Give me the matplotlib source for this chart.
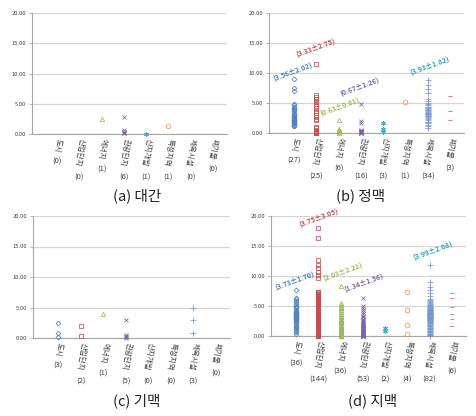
#!/usr/bin/env python3
"""Scatter of values per development type for four mountain-range classes."""

import matplotlib
matplotlib.use("Agg")
import matplotlib.pyplot as plt

plt.rcParams["font.family"] = ["Noto Sans CJK KR", "DejaVu Sans"]

CATEGORIES = ["도시", "산업단지", "에너지", "관광단지", "산지개발", "특정지역", "체육시설", "폐기물"]
CAPTIONS = ["(a) 대간", "(b) 정맥", "(c) 기맥", "(d) 지맥"]

# (a) 대간
A_VALUES = [
    [],
    [],
    [2.4],
    [2.8, 0.6, 0.4, 0.3, 0.2, 0.1],
    [0.05],
    [1.4],
    [],
    [],
]

# (b) 정맥
B_VALUES = [
    [9.0, 7.5, 7.0, 4.8, 4.6, 4.4, 4.2, 4.0, 3.8, 3.6, 3.4, 3.2, 3.0, 2.9, 2.7,
     2.5, 2.3, 2.2, 2.1, 2.0, 1.9, 1.8, 1.7, 1.5, 1.4, 1.2, 1.1],
    [11.5, 6.3, 6.0, 5.7, 5.4, 5.1, 4.8, 4.5, 4.2, 3.6, 3.3, 3.0, 2.7, 2.4, 2.1,
     1.0, 0.8, 0.5, 0.3, 0.2, 0.1, 0.1, 0.05, 0.0, 0.0],
    [2.1, 0.7, 0.5, 0.3, 0.1, 0.05],
    [4.8, 2.0, 1.7, 0.5, 0.4, 0.3, 0.3, 0.2, 0.2, 0.2, 0.1, 0.1, 0.1, 0.0, 0.0, 0.0],
    [1.7, 0.7, 0.2],
    [5.1],
    [8.8, 8.0, 7.4, 6.7, 5.6, 5.3, 5.0, 4.8, 4.6, 4.4, 4.3, 4.1, 4.0, 3.9, 3.8,
     3.6, 3.5, 3.4, 3.3, 3.2, 3.1, 3.0, 2.9, 2.8, 2.7, 2.5, 2.3, 2.1, 1.9, 1.8,
     1.6, 1.4, 1.2, 0.9],
    [6.1, 3.6, 2.1],
]

# (c) 기맥
C_VALUES = [
    [2.5, 0.85, 0.1],
    [2.0, 0.4],
    [4.0],
    [3.0, 0.5, 0.3, 0.1, 0.0],
    [],
    [],
    [5.0, 3.0, 0.9],
    [],
]

# (d) 지맥
D_VALUES = [
    [7.7, 6.4, 6.1, 5.8, 5.6, 5.3, 5.0, 4.8, 4.6, 4.4, 4.2, 4.0, 3.9, 3.8, 3.7,
     3.6, 3.5, 3.4, 3.3, 3.2, 3.1, 3.0, 2.9, 2.8, 2.6, 2.5, 2.3, 2.1, 1.9, 1.7,
     1.5, 1.3, 1.1, 0.9, 0.6, 0.4],
    [18.0, 16.4, 12.6, 11.9, 11.3, 10.7, 10.2, 9.7,
     7.4, 7.3, 7.1, 7.0, 6.9, 6.8, 6.7, 6.5, 6.4, 6.3, 6.2, 6.1, 6.0, 5.9, 5.8, 5.7, 5.6, 5.5, 5.4, 5.3,
     5.2, 5.1, 5.0, 4.9, 4.8, 4.7, 4.6, 4.5, 4.4, 4.3, 4.2, 4.1, 4.0, 3.9, 3.8, 3.7, 3.6, 3.5, 3.4, 3.3,
     3.2, 3.1, 3.0, 2.9, 2.8, 2.7, 2.6, 2.5, 2.4, 2.3, 2.2, 2.1, 2.0, 1.9, 1.8, 1.7, 1.6, 1.5, 1.4, 1.3,
     1.2, 1.1, 1.0, 0.9, 0.8, 0.7, 0.6, 0.5, 0.4, 0.3, 0.2, 0.1, 0.0, 4.6, 4.2, 3.8, 3.4, 3.0, 2.6, 2.2,
     6.6, 6.2, 5.8, 5.4, 5.0, 4.6, 4.2, 3.8, 3.4, 3.0, 2.6, 2.2, 1.8, 1.4, 1.0, 0.6, 0.2, 4.8, 4.4, 4.0,
     3.6, 3.2, 2.8, 2.4, 2.0, 1.6, 1.2, 0.8, 0.4, 0.0, 3.5, 3.1, 2.7, 2.3, 1.9, 1.5, 1.1, 0.7, 0.3, 0.1,
     2.5, 2.1, 1.7, 1.3, 0.9, 0.5, 0.2, 0.0, 3.3, 2.9, 2.4, 1.8, 1.2, 0.6, 0.3, 0.0],
    [8.4, 5.5, 5.2, 4.9, 4.6, 4.3, 4.0, 3.7, 3.4, 3.1, 2.9, 2.7, 2.5, 2.3, 2.1,
     1.9, 1.7, 1.5, 1.3, 1.1, 1.0, 0.9, 0.8, 0.7, 0.6, 0.5, 0.4, 0.35, 0.3, 0.25,
     0.2, 0.15, 0.1, 0.05, 0.0, 0.0],
    [6.4, 5.0, 4.6, 4.3, 4.0, 3.7, 3.4, 3.1, 2.9, 2.7, 2.5, 2.3, 2.1, 2.0, 1.9,
     1.8, 1.7, 1.6, 1.5, 1.4, 1.3, 1.2, 1.1, 1.0, 0.9, 0.8, 0.75, 0.7, 0.65, 0.6,
     0.55, 0.5, 0.45, 0.4, 0.35, 0.3, 0.3, 0.25, 0.25, 0.2, 0.2, 0.15, 0.15, 0.1, 0.1,
     0.1, 0.05, 0.05, 0.05, 0.0, 0.0, 0.0, 0.0],
    [1.3, 0.8],
    [7.3, 4.4, 1.9, 0.4],
    [11.9, 9.0, 8.2, 7.6, 7.1, 6.6, 6.2,
     6.0, 5.8, 5.6, 5.5, 5.4, 5.2, 5.1, 5.0, 4.9, 4.8, 4.7, 4.6, 4.5, 4.4, 4.4,
     4.3, 4.2, 4.2, 4.1, 4.0, 4.0, 3.9, 3.9, 3.8, 3.8, 3.7, 3.7, 3.6, 3.6, 3.5,
     3.5, 3.4, 3.4, 3.3, 3.3, 3.2, 3.2, 3.1, 3.0, 3.0, 2.9, 2.8, 2.8, 2.7, 2.6,
     2.5, 2.5, 2.4, 2.3, 2.2, 2.1, 2.0, 1.9, 1.8, 1.7, 1.6, 1.5, 1.4, 1.3, 1.2,
     1.1, 1.0, 0.9, 0.8, 0.7, 0.6, 0.5, 0.4, 0.3, 0.2, 0.1, 0.0, 4.5, 3.6, 2.7],
    [7.1, 6.4, 4.9, 3.6, 2.9, 1.7],
]

# mean ± sd labels: text, category index
B_STATS = [("(3.56±2.02)", 0), ("(3.33±2.75)", 1), ("(0.63±0.81)", 2), ("(0.67±1.26)", 3), ("(3.93±1.82)", 6)]
D_STATS = [("(3.73±1.70)", 0), ("(3.75±3.05)", 1), ("(2.03±2.21)", 2), ("(1.34±1.56)", 3), ("(3.99±2.08)", 6)]
# label anchor positions (data coords)
B_STAT_POS = [(0.95, 10.2), (1.95, 14.3), (3.05, 4.5), (3.95, 7.7), (7.1, 11.3)]
D_STAT_POS = [(0.95, 9.3), (2.0, 19.8), (3.1, 10.7), (4.05, 9.0), (7.15, 14.3)]

STYLES = [
    {"marker": "D", "color": "#4F81BD", "ms": 2.5, "hollow": True},
    {"marker": "s", "color": "#C0504D", "ms": 3.0, "hollow": True},
    {"marker": "^", "color": "#9BBB59", "ms": 3.2, "hollow": True},
    {"marker": "x", "color": "#8064A2", "ms": 3.0, "hollow": False},
    {"marker": (6, 2, 0), "color": "#4BACC6", "ms": 3.4, "hollow": False},
    {"marker": "o", "color": "#F79646", "ms": 3.3, "hollow": True},
    {"marker": "+", "color": "#7596CF", "ms": 4.0, "hollow": False},
    {"marker": "_", "color": "#D9585A", "ms": 2.2, "hollow": False},
]
STAT_COLORS = ["#4A7EBF", "#C0504D", "#9BBB59", "#8064A2", "#31A0BE", "#F79646", "#31A0BE", "#C0504D"]

FIG_W, FIG_H = 476, 416
# panel plot areas in pixels: left, right, top, bottom
PANEL_BOXES = [(32, 227, 13, 134), (269, 464, 13, 133), (33, 230, 216, 338), (271, 466, 216, 336)]
CAPTION_POS = [(137, 196), (360, 196), (137, 401), (373, 401)]


def draw_panel(fig, box, values, stats, stat_pos):
    left, right, top, bottom = box
    ax = fig.add_axes([left / FIG_W, 1 - bottom / FIG_H, (right - left) / FIG_W, (bottom - top) / FIG_H])
    for i, (vals, st) in enumerate(zip(values, STYLES)):
        if not vals:
            continue
        ax.plot(
            [i + 1] * len(vals), vals,
            linestyle="none", marker=st["marker"], markersize=st["ms"],
            markeredgecolor=st["color"], markeredgewidth=0.55,
            markerfacecolor="none" if st["hollow"] else st["color"],
            clip_on=False, zorder=3,
        )
    ax.set_xlim(-0.12, 8.63)
    ax.set_ylim(0, 20)
    ax.set_yticks([0, 5, 10, 15, 20])
    ax.set_yticklabels([f"{v:.2f}" for v in [0, 5, 10, 15, 20]])
    ax.tick_params(axis="y", labelsize=4.2, length=2, width=0.6, color="#A6A6A6", pad=2, labelcolor="#404040")
    ax.set_xticks([])
    ax.grid(axis="y", color="#D4D4D4", linewidth=0.9)
    ax.set_axisbelow(True)
    for side in ("top", "right"):
        ax.spines[side].set_visible(False)
    for side in ("left", "bottom"):
        ax.spines[side].set_color("#A6A6A6")
        ax.spines[side].set_linewidth(0.8)

    for i, name in enumerate(CATEGORIES):
        ax.annotate(name, xy=(i + 1, 0), xycoords=("data", "axes fraction"),
                    xytext=(0, -3), textcoords="offset points",
                    rotation=-100, ha="center", va="top", fontsize=5.5, color="#404040")
        off = 3 + len(name) * 5.8 + 5
        ax.annotate(f"({len(values[i])})", xy=(i + 1, 0), xycoords=("data", "axes fraction"),
                    xytext=(0, -off), textcoords="offset points",
                    ha="center", va="center", fontsize=5.5, color="#404040")

    for (text, idx), (x, y) in zip(stats, stat_pos):
        ax.text(x, y, text, rotation=20, ha="center", va="center", fontsize=5.0,
                fontweight="bold", color=STAT_COLORS[idx])
    return ax


def main() -> None:
    fig = plt.figure(figsize=(FIG_W / 100, FIG_H / 100), dpi=100)
    panels = [
        (A_VALUES, [], []),
        (B_VALUES, B_STATS, B_STAT_POS),
        (C_VALUES, [], []),
        (D_VALUES, D_STATS, D_STAT_POS),
    ]
    for box, (values, stats, pos) in zip(PANEL_BOXES, panels):
        draw_panel(fig, box, values, stats, pos)
    for caption, (cx, cy) in zip(CAPTIONS, CAPTION_POS):
        fig.text(cx / FIG_W, 1 - cy / FIG_H, caption, ha="center", va="center", fontsize=10.5, color="#222222")
    fig.savefig("out.png", dpi=100)
    plt.close(fig)


if __name__ == "__main__":
    main()
